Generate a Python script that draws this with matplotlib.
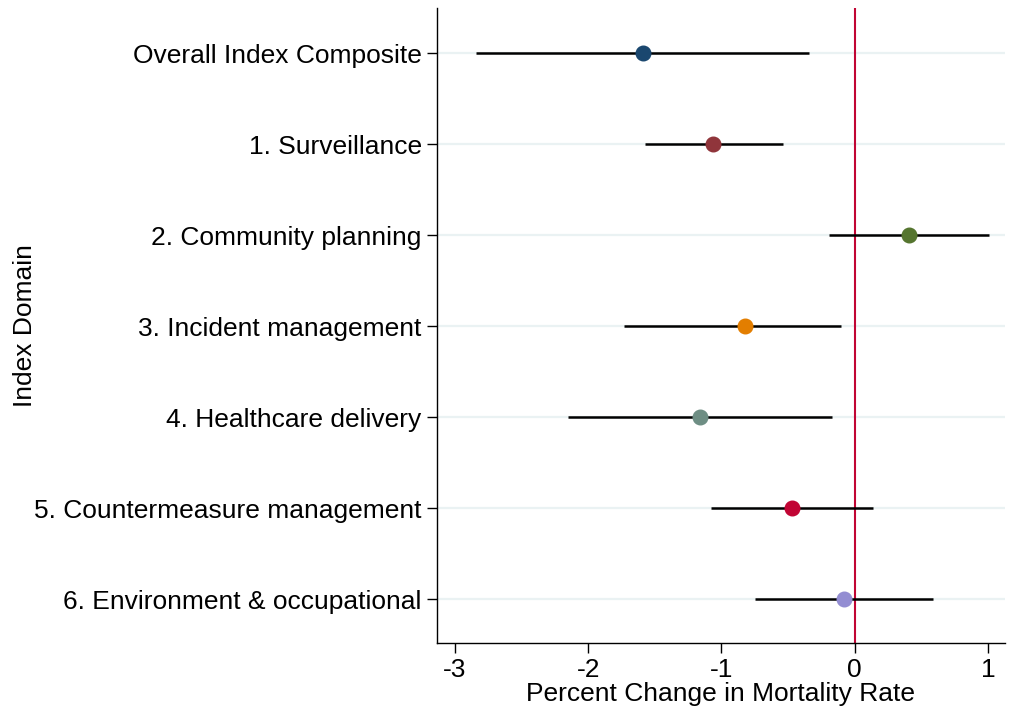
import matplotlib
matplotlib.use("Agg")
import matplotlib.pyplot as plt

plt.rcParams['font.family'] = ['Liberation Sans', 'DejaVu Sans']

# index domains, top to bottom
domains = [
    "Overall Index Composite",
    "1. Surveillance",
    "2. Community planning",
    "3. Incident management",
    "4. Healthcare delivery",
    "5. Countermeasure management",
    "6. Environment & occupational",
]
estimate = [-1.59, -1.06, 0.405, -0.82, -1.16, -0.47, -0.08]
ci_low = [-2.84, -1.575, -0.195, -1.73, -2.15, -1.08, -0.75]
ci_high = [-0.34, -0.54, 1.01, -0.10, -0.17, 0.135, 0.585]
colors = ["#1a476f", "#90353b", "#55752f", "#e37e00", "#6e8e84", "#c10534", "#938dd2"]
xticks = [-3, -2, -1, 0, 1]

fig = plt.figure(figsize=(10.13, 7.19), dpi=100)
ax = fig.add_axes([0.4314, 0.1057, 0.5606, 0.8832])

ypos = list(range(1, len(domains) + 1))

for y in ypos:
    ax.axhline(y, color="#eaf2f3", lw=1.6, zorder=0)

ax.axvline(0, color="#c10534", lw=1.5, zorder=1)

for y, lo, hi, est, c in zip(ypos, ci_low, ci_high, estimate, colors):
    ax.plot([lo, hi], [y, y], color="black", lw=1.8, solid_capstyle="butt", zorder=2)
    ax.plot(est, y, "o", color=c, markersize=10.5, zorder=3)

ax.set_xlim(-3.135, 1.128)
ax.set_ylim(7.48, 0.505)
ax.set_yticks(ypos)
ax.set_yticklabels(domains)
ax.set_xticks(xticks)
ax.set_xticklabels([str(t) for t in xticks])

ax.spines['top'].set_visible(False)
ax.spines['right'].set_visible(False)
ax.spines['left'].set_linewidth(1.0)
ax.spines['bottom'].set_linewidth(1.0)
ax.tick_params(axis='both', length=7, width=1.0, labelsize=19, direction='out')
ax.tick_params(axis='y', pad=4)
ax.tick_params(axis='x', pad=4)

ax.set_xlabel("Percent Change in Mortality Rate", fontsize=19, labelpad=0)
ax.set_ylabel("Index Domain", fontsize=19, labelpad=-2)

fig.savefig("out.png", dpi=100, facecolor="white")
